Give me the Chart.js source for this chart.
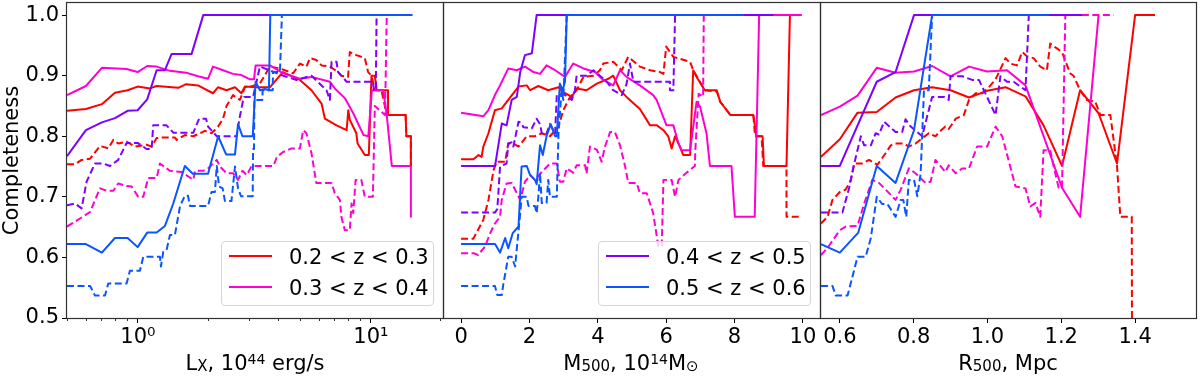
<!DOCTYPE html>
<html><head><meta charset="utf-8">
<script src="https://cdn.jsdelivr.net/npm/chart.js@4.4.0/dist/chart.umd.min.js"></script>
<style>
html,body{margin:0;padding:0;background:#fff;}
#wrap{position:relative;width:1200px;height:376px;overflow:hidden;font-family:"DejaVu Sans",sans-serif;color:#000;}
canvas{position:absolute;top:0;}
.xt{position:absolute;top:351px;width:300px;font-size:21px;line-height:24px;text-align:center;white-space:nowrap;}
.xt sub{font-size:15px;line-height:0;vertical-align:-1px;}
.xt sup{font-size:14px;line-height:0;vertical-align:6px;}
.leg{position:absolute;border:1px solid #d6d6d6;border-radius:4px;background:rgba(255,255,255,0.8);box-sizing:border-box;}
.li{position:absolute;height:2px;}
.lt{position:absolute;font-size:21px;line-height:24px;white-space:nowrap;}
</style></head>
<body><div id="wrap">
<canvas id="c1" width="448" height="376" style="left:0px"></canvas>
<canvas id="c2" width="384" height="376" style="left:440px"></canvas>
<canvas id="c3" width="384" height="376" style="left:816px"></canvas>
<div class="xt" style="left:105px">L<sub>X</sub>, 10<sup>44</sup> erg/s</div>
<div class="xt" style="left:481px">M<sub>500</sub>, 10<sup>14</sup>M<sub>⊙</sub></div>
<div class="xt" style="left:858px">R<sub>500</sub>, Mpc</div>
</div>
<script>
// ---------- labels ----------
const zBins = ['0.2 < z < 0.3', '0.3 < z < 0.4', '0.4 < z < 0.5', '0.5 < z < 0.6'];
const yTicks = [0.5, 0.6, 0.7, 0.8, 0.9, 1.0];
const lxMajorTicks = [1, 10];
const lxMajorLabels = ['10⁰', '10¹'];
const lxMinorTicks = [0.5, 0.6, 0.7, 0.8, 0.9, 2, 3, 4, 5, 6, 7, 8, 9, 20];
const mTicks = [0, 2, 4, 6, 8, 10];
const rTicks = [0.6, 0.8, 1.0, 1.2, 1.4];

// ---------- panel 1 : L_X [1e44 erg/s] vs completeness ----------
const lxRedSolid = [[0.496,0.842],[0.598,0.845],[0.70,0.853],[0.797,0.872],[0.903,0.876],[0.997,0.882],[1.126,0.879],[1.203,0.883],[1.49,0.880],[1.61,0.886],[1.81,0.884],[2.10,0.871],[2.21,0.881],[2.40,0.876],[2.61,0.881],[2.78,0.871],[2.88,0.882],[3.23,0.881],[3.69,0.881],[4.19,0.906],[4.96,0.893],[5.56,0.876],[6.14,0.854],[6.35,0.829],[7.12,0.818],[7.87,0.810],[8.0,0.843],[8.12,0.827],[8.66,0.805],[8.77,0.788],[9.42,0.769],[9.80,0.769],[10.06,0.90],[10.4,0.90],[10.6,0.876],[11.85,0.876],[11.85,0.835],[14.1,0.835],[14.2,0.80],[14.85,0.80],[14.85,0.751]];
const lxRedDashed = [[0.496,0.754],[0.537,0.754],[0.573,0.761],[0.623,0.763],[0.687,0.784],[0.746,0.780],[0.784,0.794],[0.823,0.788],[0.894,0.791],[0.971,0.783],[1.09,0.786],[1.145,0.783],[1.203,0.797],[1.264,0.798],[1.441,0.798],[1.466,0.794],[1.59,0.802],[1.73,0.80],[1.846,0.805],[1.939,0.809],[2.07,0.805],[2.21,0.816],[2.32,0.829],[2.40,0.850],[2.56,0.868],[2.74,0.860],[2.88,0.881],[3.11,0.883],[3.34,0.887],[3.69,0.915],[4.07,0.912],[4.64,0.904],[4.96,0.920],[5.29,0.915],[5.47,0.929],[5.83,0.926],[6.14,0.917],[6.67,0.915],[7.23,0.906],[7.47,0.90],[7.98,0.898],[8.12,0.939],[8.66,0.934],[9.42,0.929],[9.73,0.906],[10.06,0.90],[10.4,0.876],[11.1,0.876],[11.7,0.835],[14.1,0.835],[14.2,0.80],[14.85,0.80],[14.85,0.751]];
const lxMagSolid = [[0.496,0.868],[0.598,0.883],[0.70,0.913],[0.894,0.911],[0.997,0.906],[1.096,0.916],[1.203,0.915],[1.372,0.908],[1.61,0.905],[1.81,0.899],[2.0,0.895],[2.10,0.915],[2.32,0.909],[2.56,0.903],[2.78,0.901],[3.03,0.894],[3.15,0.894],[3.2,0.917],[3.69,0.917],[4.2,0.904],[4.96,0.895],[5.56,0.898],[6.67,0.89],[7.0,0.879],[7.73,0.863],[8.4,0.838],[9.3,0.802],[9.75,0.80],[10.1,0.876],[11.3,0.876],[11.7,0.835],[12.3,0.751],[14.85,0.751],[14.85,0.667]];
const lxMagDashed = [[0.496,0.651],[0.537,0.659],[0.623,0.675],[0.687,0.714],[0.734,0.710],[0.784,0.710],[0.823,0.722],[0.894,0.718],[0.94,0.717],[1.003,0.70],[1.054,0.70],[1.107,0.731],[1.203,0.731],[1.243,0.755],[1.372,0.743],[1.54,0.741],[1.73,0.728],[1.757,0.743],[1.907,0.743],[2.0,0.747],[2.18,0.761],[2.249,0.750],[2.40,0.739],[2.56,0.739],[2.69,0.728],[2.81,0.743],[2.93,0.736],[3.08,0.751],[3.82,0.751],[3.95,0.766],[4.2,0.774],[4.56,0.780],[4.96,0.780],[5.12,0.810],[5.29,0.805],[5.56,0.772],[5.83,0.723],[6.78,0.723],[7.0,0.706],[7.36,0.695],[7.47,0.667],[7.73,0.645],[8.12,0.645],[8.26,0.689],[8.4,0.673],[8.6,0.728],[9.1,0.728],[9.42,0.70],[10.2,0.70],[10.4,0.85],[11.5,0.835],[11.7,1.0],[15.0,1.0]];
const lxPurSolid = [[0.496,0.767],[0.598,0.810],[0.70,0.823],[0.797,0.830],[0.903,0.842],[0.997,0.843],[1.096,0.861],[1.203,0.909],[1.306,0.909],[1.395,0.936],[1.70,0.936],[1.907,1.0],[15.0,1.0]];
const lxPurDashed = [[0.496,0.686],[0.537,0.689],[0.573,0.681],[0.602,0.725],[0.654,0.755],[0.71,0.755],[0.758,0.751],[0.823,0.761],[0.894,0.789],[0.997,0.789],[1.09,0.779],[1.145,0.779],[1.163,0.818],[1.327,0.818],[1.418,0.806],[1.73,0.806],[1.83,0.829],[1.96,0.829],[2.0,0.816],[2.18,0.80],[2.65,0.80],[2.74,0.833],[2.83,0.860],[2.86,0.865],[3.12,0.865],[3.34,0.915],[3.5,0.912],[4.2,0.90],[4.8,0.893],[5.56,0.90],[6.45,0.876],[6.67,0.86],[6.78,0.923],[7.12,0.923],[7.23,0.906],[7.87,0.89],[10.2,0.89],[10.3,0.876],[10.5,0.876],[10.58,1.0],[15.0,1.0]];
const lxBluSolid = [[0.496,0.622],[0.598,0.622],[0.70,0.608],[0.797,0.632],[0.903,0.632],[0.997,0.617],[1.096,0.641],[1.203,0.641],[1.306,0.652],[1.418,0.689],[1.59,0.751],[1.72,0.738],[2.0,0.738],[2.21,0.80],[2.39,0.770],[2.61,0.770],[2.69,0.820],[2.81,0.80],[3.11,0.80],[3.2,0.89],[3.34,0.876],[3.51,0.878],[3.65,0.876],[3.70,1.0],[15.1,1.0]];
const lxBluDashed = [[0.496,0.553],[0.623,0.553],[0.654,0.537],[0.722,0.537],[0.746,0.557],[0.894,0.557],[0.924,0.578],[1.02,0.578],[1.054,0.601],[1.243,0.601],[1.255,0.585],[1.284,0.609],[1.327,0.612],[1.372,0.637],[1.441,0.637],[1.515,0.684],[1.59,0.702],[1.64,0.702],[1.672,0.685],[2.0,0.685],[2.07,0.708],[2.14,0.708],[2.18,0.751],[2.23,0.717],[2.31,0.714],[2.363,0.693],[2.52,0.693],[2.61,0.750],[2.69,0.714],[2.77,0.701],[3.11,0.701],[3.12,0.779],[3.15,0.779],[3.16,0.86],[3.42,0.86],[3.43,0.876],[3.79,0.876],[3.80,0.906],[4.07,0.906],[4.15,1.0],[15.0,1.0]];

// ---------- panel 2 : M500 [1e14 Msun] ----------
const mRedSolid = [[0,0.762],[0.36,0.762],[0.51,0.769],[0.60,0.766],[0.65,0.783],[0.80,0.805],[0.99,0.843],[1.19,0.846],[1.38,0.86],[1.68,0.882],[1.92,0.884],[2.02,0.876],[2.26,0.883],[2.55,0.876],[2.85,0.881],[2.99,0.873],[3.24,0.865],[3.38,0.879],[3.67,0.876],[3.97,0.887],[4.31,0.895],[4.45,0.90],[4.65,0.876],[4.84,0.865],[5.23,0.845],[5.53,0.818],[5.73,0.818],[5.92,0.81],[6.06,0.80],[6.16,0.780],[6.26,0.80],[6.40,0.783],[6.50,0.769],[6.70,0.769],[6.79,0.909],[6.89,0.898],[7.13,0.876],[7.48,0.876],[7.58,0.857],[7.88,0.835],[8.55,0.835],[8.64,0.80],[8.82,0.80],[8.86,0.751],[9.52,0.751],[9.62,1.0],[9.96,1.0]];
const mRedDashed = [[0,0.631],[0.36,0.631],[0.65,0.662],[0.80,0.695],[0.95,0.744],[1.04,0.758],[1.29,0.758],[1.38,0.788],[1.53,0.788],[1.68,0.783],[1.92,0.80],[2.16,0.80],[2.36,0.805],[2.60,0.80],[2.85,0.816],[2.99,0.843],[3.19,0.865],[3.38,0.876],[3.58,0.898],[3.87,0.90],[4.06,0.909],[4.16,0.920],[4.45,0.923],[4.70,0.909],[4.89,0.931],[5.23,0.915],[5.53,0.909],[5.82,0.906],[5.92,0.903],[6.00,0.948],[6.21,0.931],[6.70,0.923],[6.79,0.909],[7.13,0.876],[7.48,0.874],[7.58,0.857],[7.88,0.835],[8.55,0.835],[8.60,0.80],[8.79,0.80],[8.84,0.751],[9.52,0.751],[9.52,0.667],[9.96,0.667]];
const mMagSolid = [[0,0.839],[0.65,0.833],[0.80,0.843],[0.99,0.868],[1.14,0.884],[1.38,0.912],[1.63,0.909],[1.87,0.915],[2.12,0.906],[2.31,0.903],[2.50,0.917],[2.75,0.909],[3.04,0.898],[3.28,0.920],[3.58,0.912],[3.92,0.906],[4.16,0.893],[4.45,0.884],[4.65,0.909],[4.84,0.898],[5.23,0.884],[5.62,0.868],[5.72,0.860],[6.01,0.818],[6.21,0.818],[6.36,0.788],[6.45,0.777],[6.70,0.777],[6.89,0.857],[6.99,0.849],[7.18,0.805],[7.28,0.751],[7.91,0.751],[8.01,0.667],[8.59,0.667],[8.72,1.0],[9.96,1.0]];
const mMagDashed = [[0,0.607],[0.36,0.607],[0.50,0.604],[0.70,0.618],[0.85,0.640],[0.99,0.656],[1.14,0.667],[1.19,0.695],[1.33,0.722],[1.48,0.723],[1.73,0.695],[1.87,0.725],[2.02,0.736],[2.16,0.728],[2.36,0.741],[2.60,0.755],[2.80,0.755],[2.89,0.725],[2.99,0.725],[3.09,0.747],[3.28,0.740],[3.38,0.752],[3.63,0.752],[3.67,0.738],[3.77,0.783],[3.97,0.778],[4.11,0.758],[4.21,0.783],[4.36,0.807],[4.50,0.807],[4.65,0.785],[4.80,0.750],[4.89,0.723],[5.14,0.723],[5.23,0.706],[5.43,0.706],[5.53,0.689],[5.62,0.673],[5.77,0.618],[5.87,0.618],[5.92,0.728],[6.16,0.728],[6.26,0.70],[6.36,0.728],[6.60,0.74],[6.84,0.751],[6.85,0.775],[6.95,0.87],[7.08,0.865],[7.10,1.0],[9.96,1.0]];
const mPurSolid = [[0,0.751],[0.994,0.751],[1.19,0.821],[1.33,0.818],[1.48,0.86],[1.63,0.865],[1.73,0.906],[1.87,0.934],[2.07,0.937],[2.21,1.0],[9.13,1.0]];
const mPurDashed = [[0,0.674],[0.99,0.674],[1.06,0.68],[1.14,0.75],[1.33,0.755],[1.38,0.788],[1.48,0.79],[1.53,0.783],[1.68,0.824],[1.77,0.822],[1.82,0.815],[2.07,0.813],[2.21,0.829],[2.31,0.82],[2.36,0.805],[2.49,0.803],[2.60,0.82],[2.75,0.805],[2.80,0.868],[2.99,0.87],[3.24,0.86],[3.33,0.876],[3.38,0.90],[3.67,0.90],[3.87,0.909],[4.06,0.90],[4.26,0.89],[4.45,0.876],[4.70,0.868],[4.84,0.886],[4.94,0.920],[5.04,0.89],[6.11,0.89],[6.11,0.876],[6.21,0.876],[6.26,1.0],[9.13,1.0]];
const mBluSolid = [[0,0.622],[0.994,0.622],[1.14,0.608],[1.29,0.632],[1.38,0.615],[1.51,0.640],[1.68,0.651],[1.77,0.75],[1.92,0.751],[2.02,0.736],[2.16,0.728],[2.21,0.721],[2.31,0.785],[2.39,0.769],[2.50,0.80],[2.62,0.82],[2.75,0.80],[2.80,0.80],[2.89,0.887],[2.97,0.876],[3.04,0.89],[3.09,1.0],[8.26,1.0]];
const mBluDashed = [[0,0.553],[0.99,0.553],[1.06,0.538],[1.19,0.538],[1.24,0.557],[1.38,0.601],[1.48,0.601],[1.58,0.585],[1.73,0.673],[1.77,0.70],[1.92,0.70],[1.97,0.685],[2.16,0.685],[2.21,0.673],[2.26,0.70],[2.31,0.739],[2.36,0.690],[2.50,0.690],[2.55,0.728],[2.60,0.70],[2.80,0.70],[2.85,0.805],[2.94,0.876],[2.99,0.86],[3.09,1.0],[8.26,1.0]];

// ---------- panel 3 : R500 [Mpc] ----------
const rRedSolid = [[0.549,0.766],[0.60,0.795],[0.648,0.839],[0.70,0.840],[0.751,0.864],[0.801,0.876],[0.850,0.881],[0.90,0.876],[0.950,0.864],[0.999,0.875],[1.049,0.881],[1.103,0.866],[1.152,0.818],[1.202,0.751],[1.251,0.876],[1.301,0.838],[1.351,0.755],[1.400,1.0],[1.454,1.0]];
const rRedDashed = [[0.549,0.656],[0.567,0.667],[0.580,0.695],[0.60,0.708],[0.616,0.712],[0.630,0.728],[0.639,0.755],[0.661,0.755],[0.679,0.761],[0.702,0.753],[0.724,0.772],[0.738,0.785],[0.751,0.788],[0.774,0.788],[0.787,0.783],[0.805,0.788],[0.841,0.805],[0.859,0.80],[0.873,0.809],[0.886,0.816],[0.895,0.812],[0.914,0.829],[0.936,0.835],[0.950,0.860],[0.968,0.871],[0.986,0.871],[1.004,0.881],[1.022,0.894],[1.049,0.929],[1.062,0.920],[1.080,0.917],[1.094,0.939],[1.107,0.932],[1.125,0.929],[1.143,0.915],[1.161,0.909],[1.170,0.953],[1.188,0.945],[1.202,0.939],[1.224,0.904],[1.233,0.90],[1.251,0.876],[1.269,0.86],[1.292,0.857],[1.306,0.835],[1.333,0.835],[1.351,0.751],[1.360,0.667],[1.391,0.667],[1.393,0.0]];
const rMagSolid = [[0.549,0.835],[0.60,0.849],[0.648,0.867],[0.70,0.913],[0.751,0.905],[0.801,0.907],[0.850,0.916],[0.90,0.899],[0.950,0.915],[0.999,0.907],[1.053,0.909],[1.103,0.884],[1.202,0.715],[1.251,0.667],[1.301,1.0]];
const rMagDashed = [[0.549,0.604],[0.567,0.616],[0.60,0.645],[0.616,0.651],[0.648,0.652],[0.666,0.689],[0.688,0.728],[0.706,0.723],[0.724,0.712],[0.751,0.695],[0.765,0.712],[0.787,0.747],[0.805,0.739],[0.832,0.723],[0.846,0.725],[0.859,0.761],[0.886,0.741],[0.895,0.752],[0.914,0.739],[0.932,0.747],[0.950,0.747],[0.972,0.783],[0.999,0.783],[1.022,0.816],[1.040,0.80],[1.076,0.717],[1.103,0.714],[1.116,0.684],[1.130,0.690],[1.143,0.667],[1.152,0.777],[1.170,0.777],[1.179,0.751],[1.193,0.715],[1.202,0.715],[1.211,1.0],[1.342,1.0]];
const rPurSolid = [[0.549,0.751],[0.60,0.751],[0.70,0.89],[0.751,0.906],[0.801,1.0],[1.256,1.0]];
const rPurDashed = [[0.549,0.674],[0.607,0.674],[0.625,0.714],[0.639,0.755],[0.657,0.80],[0.666,0.785],[0.684,0.785],[0.697,0.805],[0.706,0.803],[0.720,0.824],[0.751,0.807],[0.769,0.807],[0.778,0.828],[0.792,0.816],[0.823,0.80],[0.850,0.865],[0.882,0.865],[0.895,0.86],[0.90,0.899],[0.932,0.899],[0.959,0.893],[0.977,0.893],[1.022,0.835],[1.035,0.899],[1.053,0.89],[1.071,0.89],[1.103,0.876],[1.112,1.0],[1.256,1.0]];
const rBluSolid = [[0.549,0.622],[0.60,0.608],[0.650,0.641],[0.70,0.751],[0.751,0.723],[0.801,0.81],[0.850,1.0],[1.166,1.0]];
const rBluDashed = [[0.549,0.553],[0.58,0.553],[0.589,0.537],[0.621,0.537],[0.648,0.601],[0.670,0.601],[0.684,0.632],[0.70,0.70],[0.715,0.688],[0.729,0.688],[0.751,0.667],[0.765,0.695],[0.772,0.695],[0.780,0.667],[0.787,0.728],[0.801,0.728],[0.810,0.701],[0.819,0.739],[0.828,0.876],[0.841,0.876],[0.850,1.0],[1.166,1.0]];

// ---------- style ----------
const FONT = '"DejaVu Sans", sans-serif';
const COLORS = ['#ff0000', '#ff00d2', '#7f00ff', '#0a55ff'];

function ds(points, colorIdx, dashed, order, label) {
  return {
    label: label,
    data: points.map(p => ({x: p[0], y: p[1]})),
    borderColor: COLORS[colorIdx], backgroundColor: COLORS[colorIdx],
    borderWidth: 2, borderDash: dashed ? [7, 3.5] : [],
    borderJoinStyle: 'round', pointRadius: 0, fill: false, tension: 0, order: order
  };
}
function panelSets(s) {
  // s: [redS, redD, magS, magD, purS, purD, bluS, bluD]
  return s.map((pts, i) => ds(pts, Math.floor(i / 2), i % 2 === 1, 8 - i, zBins[Math.floor(i / 2)]));
}
const framePlugin = {
  id: 'frame',
  afterDatasetsDraw(c) {
    const a = c.chartArea, x = c.ctx;
    x.save(); x.strokeStyle = '#303030'; x.lineWidth = 1.2;
    x.strokeRect(a.left - 0.5, a.top - 0.5, a.right - a.left + 1, a.bottom - a.top + 1);
    x.restore();
  }
};
function yScale(show) {
  return {
    type: 'linear', min: 0.5, max: 1.02, display: show,
    afterBuildTicks(s) { s.ticks = yTicks.map(v => ({value: v})); },
    afterFit(s) { if (show) s.width = 67; s.paddingTop = 0; s.paddingBottom = 0; },
    ticks: {font: {family: FONT, size: 21}, color: '#000', padding: 3, autoSkip: false,
            callback: v => Number(v).toFixed(1)},
    grid: {drawOnChartArea: false, drawTicks: true, tickLength: 5, tickColor: '#000', tickWidth: 1},
    border: {display: false},
    title: {display: show, text: 'Completeness', font: {family: FONT, size: 21}, color: '#000',
            padding: {top: 0, bottom: 0}}
  };
}
function xScale(extra) {
  return Object.assign({
    afterFit(s) { s.height = 58; s.paddingLeft = 0; s.paddingRight = 0; },
    grid: {drawOnChartArea: false, drawTicks: true, tickLength: 5, tickColor: '#000',
           tickWidth: ctx => (ctx.tick && ctx.tick.major === false) ? 0.8 : 1,
           tickBorderDash: ctx => (ctx.tick && ctx.tick.major === false) ? [3, 20] : []},
    border: {display: false}
  }, extra);
}
function makeChart(id, sets, xs, showY, pad) {
  return new Chart(document.getElementById(id), {
    type: 'line',
    data: {datasets: panelSets(sets)},
    options: {
      responsive: false, animation: false, devicePixelRatio: 1, events: [],
      parsing: true, layout: {padding: pad},
      plugins: {legend: {display: false}, tooltip: {enabled: false}},
      scales: {x: xs, y: yScale(showY)}
    },
    plugins: [framePlugin]
  });
}
const tickFont = {family: FONT, size: 21};
makeChart('c1',
  [lxRedSolid, lxRedDashed, lxMagSolid, lxMagDashed, lxPurSolid, lxPurDashed, lxBluSolid, lxBluDashed],
  xScale({type: 'logarithmic', min: 0.496, max: 20.4,
    afterBuildTicks(s) {
      s.ticks = lxMinorTicks.map(v => ({value: v, major: false}))
        .concat(lxMajorTicks.map(v => ({value: v, major: true})))
        .sort((a, b) => a.value - b.value);
    },
    ticks: {font: tickFont, color: '#000', padding: 2, autoSkip: false, maxRotation: 0,
      callback: v => { const i = lxMajorTicks.indexOf(Number(v)); return i >= 0 ? lxMajorLabels[i] : ''; }}
  }), true, {left: 0, right: 5, top: 3, bottom: 0});
makeChart('c2',
  [mRedSolid, mRedDashed, mMagSolid, mMagDashed, mPurSolid, mPurDashed, mBluSolid, mBluDashed],
  xScale({type: 'linear', min: -0.5, max: 10.5,
    afterBuildTicks(s) { s.ticks = mTicks.map(v => ({value: v})); },
    ticks: {font: tickFont, color: '#000', padding: 2, autoSkip: false, maxRotation: 0,
      callback: v => String(v)}
  }), false, {left: 4, right: 4, top: 3, bottom: 0});
makeChart('c3',
  [rRedSolid, rRedDashed, rMagSolid, rMagDashed, rPurSolid, rPurDashed, rBluSolid, rBluDashed],
  xScale({type: 'linear', min: 0.549, max: 1.565,
    afterBuildTicks(s) { s.ticks = rTicks.map(v => ({value: v})); },
    ticks: {font: tickFont, color: '#000', padding: 2, autoSkip: false, maxRotation: 0,
      callback: v => Number(v).toFixed(1)}
  }), false, {left: 5, right: 4, top: 3, bottom: 0});

// ---------- legends (HTML, text is real text) ----------
function legend(left, bins) {
  const wrap = document.getElementById('wrap');
  const box = document.createElement('div');
  box.className = 'leg';
  box.style.left = left + 'px'; box.style.top = '241px';
  box.style.width = '213px'; box.style.height = '65px';
  wrap.appendChild(box);
  bins.forEach((b, k) => {
    const ln = document.createElement('div');
    ln.className = 'li';
    ln.style.left = (left + 8) + 'px'; ln.style.width = '43px';
    ln.style.top = (255 + 31 * k) + 'px';
    ln.style.background = COLORS[b];
    wrap.appendChild(ln);
    const tx = document.createElement('div');
    tx.className = 'lt';
    tx.style.left = (left + 68) + 'px';
    tx.style.top = (245 + 31 * k) + 'px';
    tx.textContent = zBins[b];
    wrap.appendChild(tx);
  });
}
legend(221, [0, 1]);
legend(598, [2, 3]);
</script>
</body></html>
